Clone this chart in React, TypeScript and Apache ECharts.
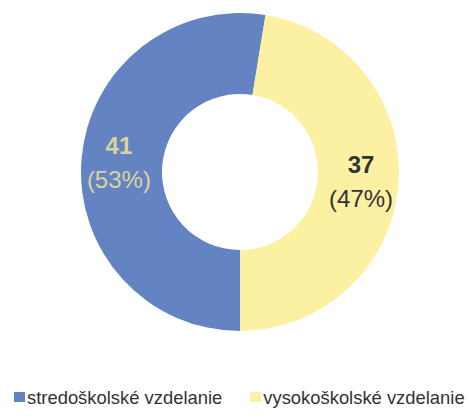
import React, { useEffect, useRef } from "react";
import * as echarts from "echarts";

const categories = ["stredoškolské vzdelanie", "vysokoškolské vzdelanie"];
const values = [41, 37];
const percents = ["53%", "47%"];
const colors = ["#6383c3", "#fcf0a3"];
const labelColors = ["#d9d49a", "#333333"];

export default function App() {
  const ref = useRef<HTMLDivElement>(null);
  useEffect(() => {
    if (!ref.current) return;
    const chart = echarts.init(ref.current, null, { renderer: "svg" });
    chart.setOption({
      animation: false,
      legend: {
        data: categories,
        left: 14,
        top: 388,
        padding: 0,
        itemWidth: 11,
        itemHeight: 10,
        itemGap: 28,
        icon: "rect",
        textStyle: {
          fontFamily: "Liberation Sans, Arial, sans-serif",
          fontSize: 18.4,
          color: "#333",
          padding: [0, 0, 0, -3],
        },
      },
      series: [
        {
          type: "pie",
          center: [240, 172],
          radius: [78, 159],
          startAngle: 270,
          clockwise: true,
          silent: true,
          label: {
            show: true,
            position: "inside",
          },
          labelLine: { show: false },
          data: categories.map((name, i) => ({
            name,
            value: values[i],
            itemStyle: { color: colors[i] },
            label: {
              formatter: "{n|" + values[i] + "}\n{p|(" + percents[i] + ")}",
              rich: {
                n: {
                  fontFamily: "Liberation Sans, Arial, sans-serif",
                  fontSize: 24,
                  fontWeight: "bold",
                  color: labelColors[i],
                  lineHeight: 34,
                  align: "center",
                },
                p: {
                  fontFamily: "Liberation Sans, Arial, sans-serif",
                  fontSize: 24,
                  color: labelColors[i],
                  lineHeight: 34,
                  align: "center",
                },
              },
            },
          })),
        },
      ],
    });
    return () => chart.dispose();
  }, []);
  return <div ref={ref} style={{ width: 470, height: 420, position: "absolute", left: 0, top: 0 }} />;
}
